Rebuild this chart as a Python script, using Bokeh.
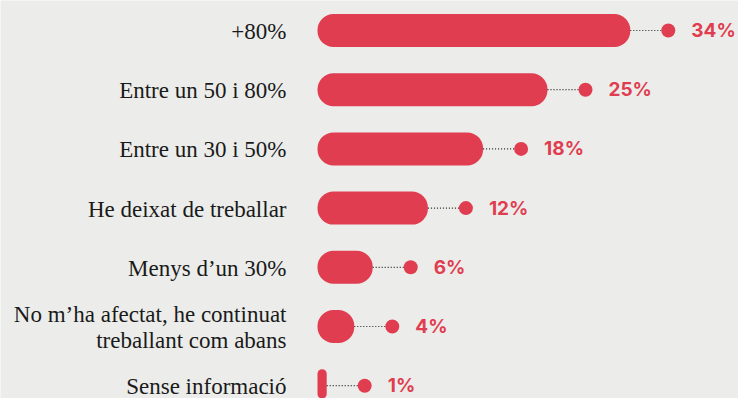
from bokeh.plotting import figure
from bokeh.models import Range1d, ColumnDataSource
from bokeh.core.properties import value
from bokeh.embed import file_html
from bokeh.resources import INLINE

categories = [
    "+80%",
    "Entre un 50 i 80%",
    "Entre un 30 i 50%",
    "He deixat de treballar",
    "Menys d\u2019un 30%",
    "No m\u2019ha afectat, he continuat\ntreballant com abans",
    "Sense informaci\u00f3",
]
values = [34, 25, 18, 12, 6, 4, 1]
value_labels = ["34%", "25%", "18%", "12%", "6%", "4%", "1%"]

BG = "#ECEDEA"
RED = "#E03D51"

W, H = 738, 398
PX_PER_UNIT = 9.2
ROW = 59.2
X0 = 317  # px of zero
Y0 = 30   # px of first row centre

xs = -X0 / PX_PER_UNIT
xe = xs + W / PX_PER_UNIT
ys = -Y0 / ROW
ye = ys + H / ROW

rows = list(range(len(categories)))
dot_gap = 38 / PX_PER_UNIT
dot_r = 7 / PX_PER_UNIT

src = ColumnDataSource(dict(
    y=rows,
    v=values,
    cat=categories,
    lab=value_labels,
    dot=[v + dot_gap for v in values],
    lend=[v + dot_gap - dot_r for v in values],
    zero=[0] * len(values),
))

p = figure(width=W, height=H, output_backend="svg", toolbar_location=None,
           x_range=Range1d(xs, xe), y_range=Range1d(ye, ys),
           min_border=0, outline_line_color=None,
           background_fill_color=BG, border_fill_color=BG)
p.axis.visible = False
p.grid.visible = False

p.hbar(y="y", left="zero", right="v", height=33 / ROW, source=src,
       fill_color=RED, line_color=None, border_radius=16)
p.segment(x0="v", x1="lend", y0="y", y1="y", source=src,
          line_color="#222222", line_width=1.2, line_dash="1 2")
p.scatter(x="dot", y="y", source=src, size=14, fill_color=RED, line_color=None)
p.text(x="dot", y="y", text="lab", source=src, x_offset=23,
       text_align="left", text_baseline="middle",
       text_font=value("Inter"), text_font_style="bold",
       text_font_size="19px", text_color=RED)
p.text(x="zero", y="y", text="cat", source=src, x_offset=-31, y_offset=1,
       text_align="right", text_baseline="middle",
       text_font=value("Liberation Serif"), text_font_size="23px",
       text_color="#1a1a1a", text_line_height=1.05)

open("out.html", "w").write(file_html(p, INLINE))
